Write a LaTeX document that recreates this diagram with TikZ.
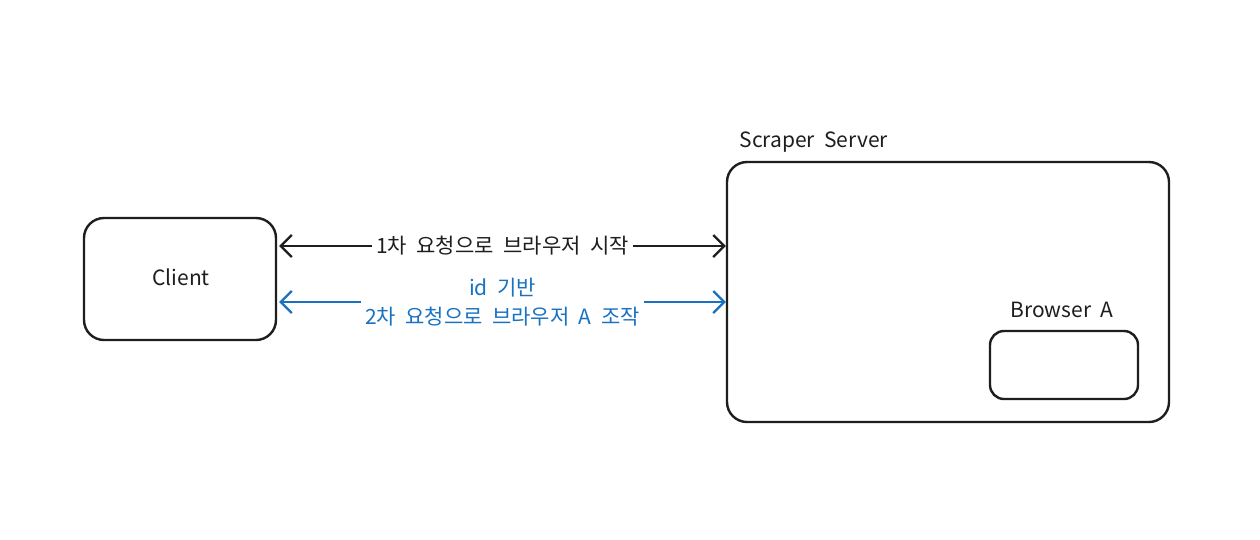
\documentclass[tikz,border=0pt]{standalone}
\usepackage{fontspec}
\setmainfont{Noto Sans CJK KR}
\usetikzlibrary{arrows.meta,calc}
\definecolor{exblue}{HTML}{1971C2}
\definecolor{exink}{HTML}{1E1E1E}
\newcommand{\exfont}{\fontsize{21}{29}\selectfont\spaceskip=0.45em plus 0.1em}
\tikzset{
  box/.style={draw=exink, line width=2.4pt, rounded corners=20pt, fill=white, inner sep=0pt},
  smallbox/.style={draw=exink, line width=2.4pt, rounded corners=14pt, fill=white, inner sep=0pt},
  conn/.style={line width=2.4pt, {Straight Barb[length=11pt,width=22pt,line width=2.2pt]}-{Straight Barb[length=11pt,width=22pt,line width=2.2pt]}},
  lbl/.style={font=\exfont, text=exink},
  midlbl/.style={font=\exfont, fill=white, inner xsep=4pt, inner ysep=1pt, align=center}
}
\begin{document}
\begin{tikzpicture}[x=1pt,y=-1pt]
\useasboundingbox (0,0) rectangle (1260,539);
\node[box, minimum width=192pt, minimum height=122pt] (client) at (180,279) {};
\node[lbl] (clientlbl) at (181,277) {Client};
\node[box, minimum width=442pt, minimum height=260pt] (server) at (948,292) {};
\node[lbl, anchor=west] (serverlbl) at (736,142) {Scraper Server};
\node[smallbox, minimum width=148pt, minimum height=68pt] (browser) at (1064,365) {};
\node[lbl] (browserlbl) at (1062,310) {Browser A};
\draw[conn, exink] ([xshift=2pt,yshift=33pt]client.east) -- ([yshift=33pt]client.east -| server.west)
  node[midway, midlbl, text=exink] (l1) {1차 요청으로 브라우저 시작};
\draw[conn, exblue] ([xshift=2pt,yshift=-23pt]client.east) -- ([yshift=-23pt]client.east -| server.west)
  node[midway, midlbl, text=exblue] (l2) {id 기반\\2차 요청으로 브라우저 A 조작};
\end{tikzpicture}
\end{document}
